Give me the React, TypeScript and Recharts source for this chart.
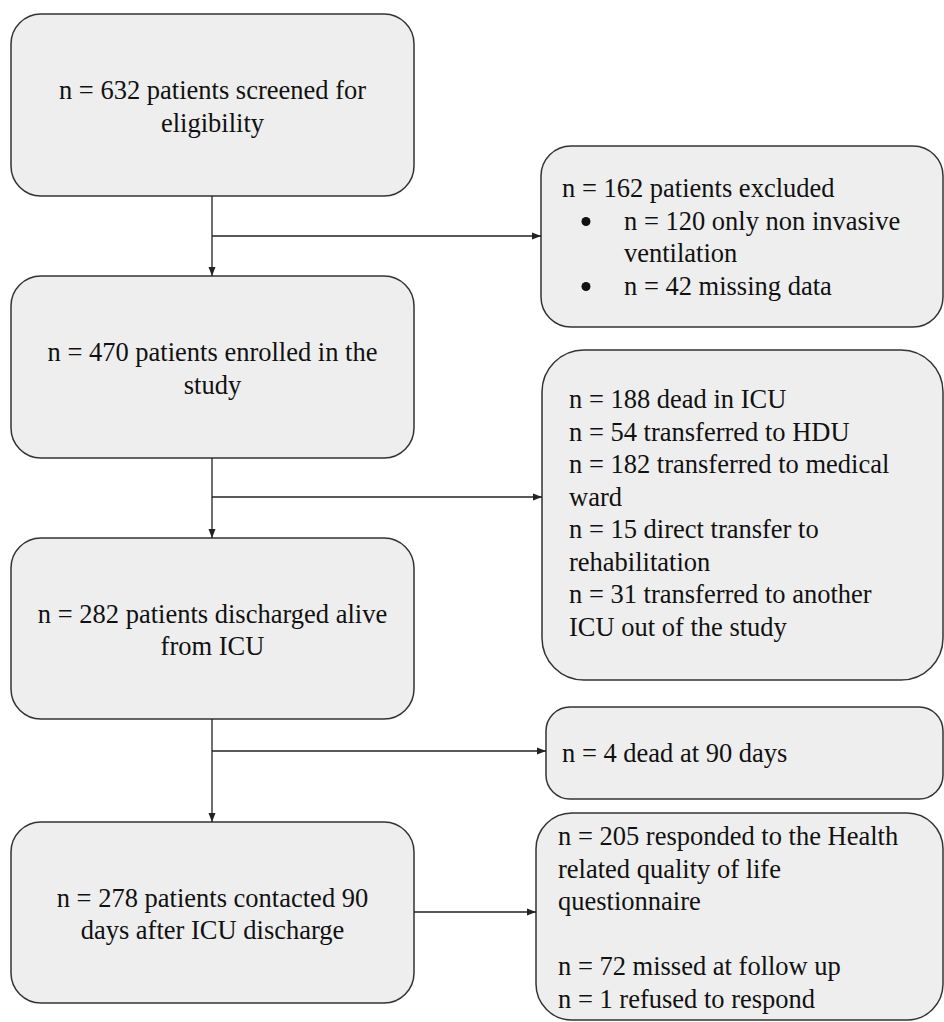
import * as React from 'react'
import { ScatterChart, XAxis, YAxis, Scatter, ReferenceArea, ReferenceLine } from 'recharts'

const W = 944
const H = 1022

// box texts, main column (top to bottom)
const mainLabels: string[][] = [
  ['n = 632 patients screened for', 'eligibility'],
  ['n = 470 patients enrolled in the', 'study'],
  ['n = 282 patients discharged alive', 'from ICU'],
  ['n = 278 patients contacted 90', 'days after ICU discharge'],
]

type SideLine = { text: string; bullet?: boolean; indent?: boolean }

// box texts, side column
const sideLabels: SideLine[][] = [
  [
    { text: 'n = 162 patients excluded' },
    { text: 'n = 120 only non invasive', bullet: true },
    { text: 'ventilation', indent: true },
    { text: 'n = 42 missing data', bullet: true },
  ],
  [
    { text: 'n = 188 dead in ICU' },
    { text: 'n = 54 transferred to HDU' },
    { text: 'n = 182 transferred to medical' },
    { text: 'ward' },
    { text: 'n = 15 direct transfer to' },
    { text: 'rehabilitation' },
    { text: 'n = 31 transferred to another' },
    { text: 'ICU out of the study' },
  ],
  [{ text: 'n = 4 dead at 90 days' }],
  [
    { text: 'n = 205 responded to the Health' },
    { text: 'related quality of life' },
    { text: 'questionnaire' },
    { text: '' },
    { text: 'n = 72 missed at follow up' },
    { text: 'n = 1 refused to respond' },
  ],
]

// layout, in chart units (domain = pixel size)
const mainFrames = [
  { x1: 11, x2: 414, y1: 14, y2: 196 },
  { x1: 11, x2: 414, y1: 276, y2: 458 },
  { x1: 11, x2: 414, y1: 538, y2: 719 },
  { x1: 11, x2: 414, y1: 822, y2: 1003 },
]
const sideFrames = [
  { x1: 541, x2: 943, y1: 146, y2: 327, r: 30, padX: 21, top: 51 },
  { x1: 542, x2: 943, y1: 350, y2: 680, r: 42, padX: 27, top: 58 },
  { x1: 546, x2: 943, y1: 707, y2: 799, r: 24, padX: 16, top: 55 },
  { x1: 536, x2: 943, y1: 813, y2: 1020, r: 36, padX: 22, top: 32 },
]
const connectors = [
  [{ x: 212, y: 196 }, { x: 212, y: 276 }],
  [{ x: 212, y: 236 }, { x: 541, y: 236 }],
  [{ x: 212, y: 458 }, { x: 212, y: 538 }],
  [{ x: 212, y: 497 }, { x: 542, y: 497 }],
  [{ x: 212, y: 719 }, { x: 212, y: 822 }],
  [{ x: 212, y: 751 }, { x: 546, y: 751 }],
  [{ x: 414, y: 912 }, { x: 536, y: 912 }],
]
const arrowTips = [
  { x: 212, y: 276, dir: 'down' },
  { x: 541, y: 236, dir: 'right' },
  { x: 212, y: 538, dir: 'down' },
  { x: 542, y: 497, dir: 'right' },
  { x: 212, y: 822, dir: 'down' },
  { x: 546, y: 751, dir: 'right' },
  { x: 536, y: 912, dir: 'right' },
]

const FONT = '"Liberation Serif", "Times New Roman", serif'
const FS = 26.5
const LINE_H = 32.5
const STROKE = '#333'
const FILL = '#eeeeee'

const mainShape = (lines: string[]) => (props: any) => {
  const { x, y, width, height } = props
  const cx = x + width / 2
  const first = y + height / 2 - 6
  return (
    <g>
      <rect x={x} y={y} width={width} height={height} rx={30} ry={30} fill={FILL} stroke={STROKE} strokeWidth={1.5} />
      {lines.map((t, i) => (
        <text key={i} x={cx} y={first + i * LINE_H} textAnchor="middle" fontFamily={FONT} fontSize={FS} fill="#111">
          {t}
        </text>
      ))}
    </g>
  )
}

const sideShape = (lines: SideLine[], f: typeof sideFrames[number]) => (props: any) => {
  const { x, y, width, height } = props
  return (
    <g>
      <rect x={x} y={y} width={width} height={height} rx={f.r} ry={f.r} fill={FILL} stroke={STROKE} strokeWidth={1.5} />
      {lines.map((l, i) => {
        const by = y + f.top + i * LINE_H
        const tx = l.bullet || l.indent ? x + 83 : x + f.padX
        return (
          <g key={i}>
            {l.bullet && <circle cx={x + 45} cy={by - 8} r={4.5} fill="#111" />}
            <text x={tx} y={by} fontFamily={FONT} fontSize={FS} fill="#111">
              {l.text}
            </text>
          </g>
        )
      })}
    </g>
  )
}

const ArrowHead = (props: any) => {
  const { cx, cy, payload } = props
  if (payload.dir === 'down') {
    return <path d={`M${cx},${cy} L${cx - 3.5},${cy - 9} L${cx + 3.5},${cy - 9} Z`} fill="#222" />
  }
  return <path d={`M${cx},${cy} L${cx - 9},${cy - 3.5} L${cx - 9},${cy + 3.5} Z`} fill="#222" />
}

export default function App(): React.ReactElement {
  return (
    <div style={{ position: 'absolute', left: 0, top: 0, width: W, height: H, background: '#fff' }}>
      <ScatterChart width={W} height={H} margin={{ top: 0, right: 0, bottom: 0, left: 0 }}>
        <XAxis type="number" dataKey="x" domain={[0, W]} allowDataOverflow hide />
        <YAxis type="number" dataKey="y" domain={[0, H]} allowDataOverflow reversed hide />
        {connectors.map((seg, i) => (
          <ReferenceLine key={`c${i}`} segment={seg} stroke="#222" strokeWidth={1.3} ifOverflow="visible" />
        ))}
        {mainFrames.map((f, i) => (
          <ReferenceArea
            key={`m${i}`}
            x1={f.x1}
            x2={f.x2}
            y1={f.y1}
            y2={f.y2}
            ifOverflow="visible"
            shape={mainShape(mainLabels[i])}
          />
        ))}
        {sideFrames.map((f, i) => (
          <ReferenceArea
            key={`s${i}`}
            x1={f.x1}
            x2={f.x2}
            y1={f.y1}
            y2={f.y2}
            ifOverflow="visible"
            shape={sideShape(sideLabels[i], f)}
          />
        ))}
        <Scatter data={arrowTips} shape={ArrowHead} isAnimationActive={false} />
      </ScatterChart>
    </div>
  )
}
